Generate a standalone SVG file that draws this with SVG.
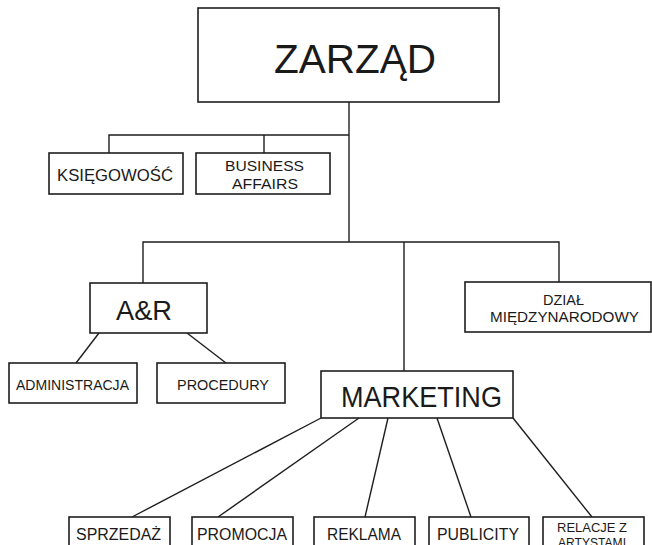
<svg xmlns="http://www.w3.org/2000/svg" width="652" height="545" viewBox="0 0 652 545">
<style>
.box{fill:#fff;stroke:#1e1e1e;stroke-width:1.6}
.ln{fill:none;stroke:#1e1e1e;stroke-width:1.4}
text{font-family:"Liberation Sans",Arial,sans-serif;fill:#1a1a1a;text-anchor:middle}
</style>
<rect width="652" height="545" fill="#fff"/>
<g id="connectors">
<polyline class="ln" points="349,102 349,242"/>
<polyline class="ln" points="109,153 109,135 349,135"/>
<line class="ln" x1="264" y1="135" x2="264" y2="153"/>
<polyline class="ln" points="143,283 143,242 559,242 559,282"/>
<line class="ln" x1="404" y1="242" x2="404" y2="371"/>
<line class="ln" x1="99" y1="333" x2="76" y2="363"/>
<line class="ln" x1="187" y1="333" x2="226" y2="363"/>
<line class="ln" x1="321" y1="418" x2="132" y2="517"/>
<line class="ln" x1="359" y1="418" x2="218" y2="517"/>
<line class="ln" x1="388" y1="418" x2="365" y2="517"/>
<line class="ln" x1="437" y1="418" x2="471" y2="517"/>
<line class="ln" x1="513" y1="418" x2="592" y2="517"/>
</g>
<g id="zarzad"><rect class="box" x="198" y="8" width="301" height="94"/><text x="355" y="73" font-size="40" textLength="162" lengthAdjust="spacingAndGlyphs">ZARZĄD</text></g>
<g id="ksiegowosc"><rect class="box" x="49" y="153" width="134" height="41"/><text x="115" y="181" font-size="16.5" textLength="116" lengthAdjust="spacingAndGlyphs">KSIĘGOWOŚĆ</text></g>
<g id="business"><rect class="box" x="196" y="153" width="134" height="41"/><text x="264.5" y="171" font-size="15.5" textLength="79" lengthAdjust="spacingAndGlyphs">BUSINESS</text><text x="265" y="189" font-size="15.5" textLength="66" lengthAdjust="spacingAndGlyphs">AFFAIRS</text></g>
<g id="ar"><rect class="box" x="90" y="283" width="117" height="50"/><text x="144" y="320" font-size="27" textLength="56" lengthAdjust="spacingAndGlyphs">A&amp;R</text></g>
<g id="dzial"><rect class="box" x="465" y="282" width="186" height="50"/><text x="563.5" y="305" font-size="15" textLength="41" lengthAdjust="spacingAndGlyphs">DZIAŁ</text><text x="564.5" y="322" font-size="15" textLength="149" lengthAdjust="spacingAndGlyphs">MIĘDZYNARODOWY</text></g>
<g id="administracja"><rect class="box" x="9" y="363" width="128" height="40"/><text x="72.5" y="390" font-size="14" textLength="113" lengthAdjust="spacingAndGlyphs">ADMINISTRACJA</text></g>
<g id="procedury"><rect class="box" x="157" y="363" width="128" height="40"/><text x="223" y="390" font-size="14" textLength="92" lengthAdjust="spacingAndGlyphs">PROCEDURY</text></g>
<g id="marketing"><rect class="box" x="321" y="371" width="192" height="47"/><text x="421.5" y="407" font-size="29" textLength="161" lengthAdjust="spacingAndGlyphs">MARKETING</text></g>
<g id="sprzedaz"><rect class="box" x="69" y="517" width="101" height="45"/><text x="118.5" y="540" font-size="16" textLength="85" lengthAdjust="spacingAndGlyphs">SPRZEDAŻ</text></g>
<g id="promocja"><rect class="box" x="192" y="517" width="101" height="45"/><text x="242" y="540" font-size="16" textLength="90" lengthAdjust="spacingAndGlyphs">PROMOCJA</text></g>
<g id="reklama"><rect class="box" x="314" y="517" width="101" height="45"/><text x="364" y="540" font-size="16" textLength="74" lengthAdjust="spacingAndGlyphs">REKLAMA</text></g>
<g id="publicity"><rect class="box" x="429" y="517" width="100" height="45"/><text x="478" y="540" font-size="16" textLength="82" lengthAdjust="spacingAndGlyphs">PUBLICITY</text></g>
<g id="relacje"><rect class="box" x="543" y="517" width="101" height="45"/><text x="592" y="532" font-size="13.5" textLength="70" lengthAdjust="spacingAndGlyphs">RELACJE Z</text><text x="592" y="547" font-size="13.5" textLength="68" lengthAdjust="spacingAndGlyphs">ARTYSTAMI</text></g>
</svg>
